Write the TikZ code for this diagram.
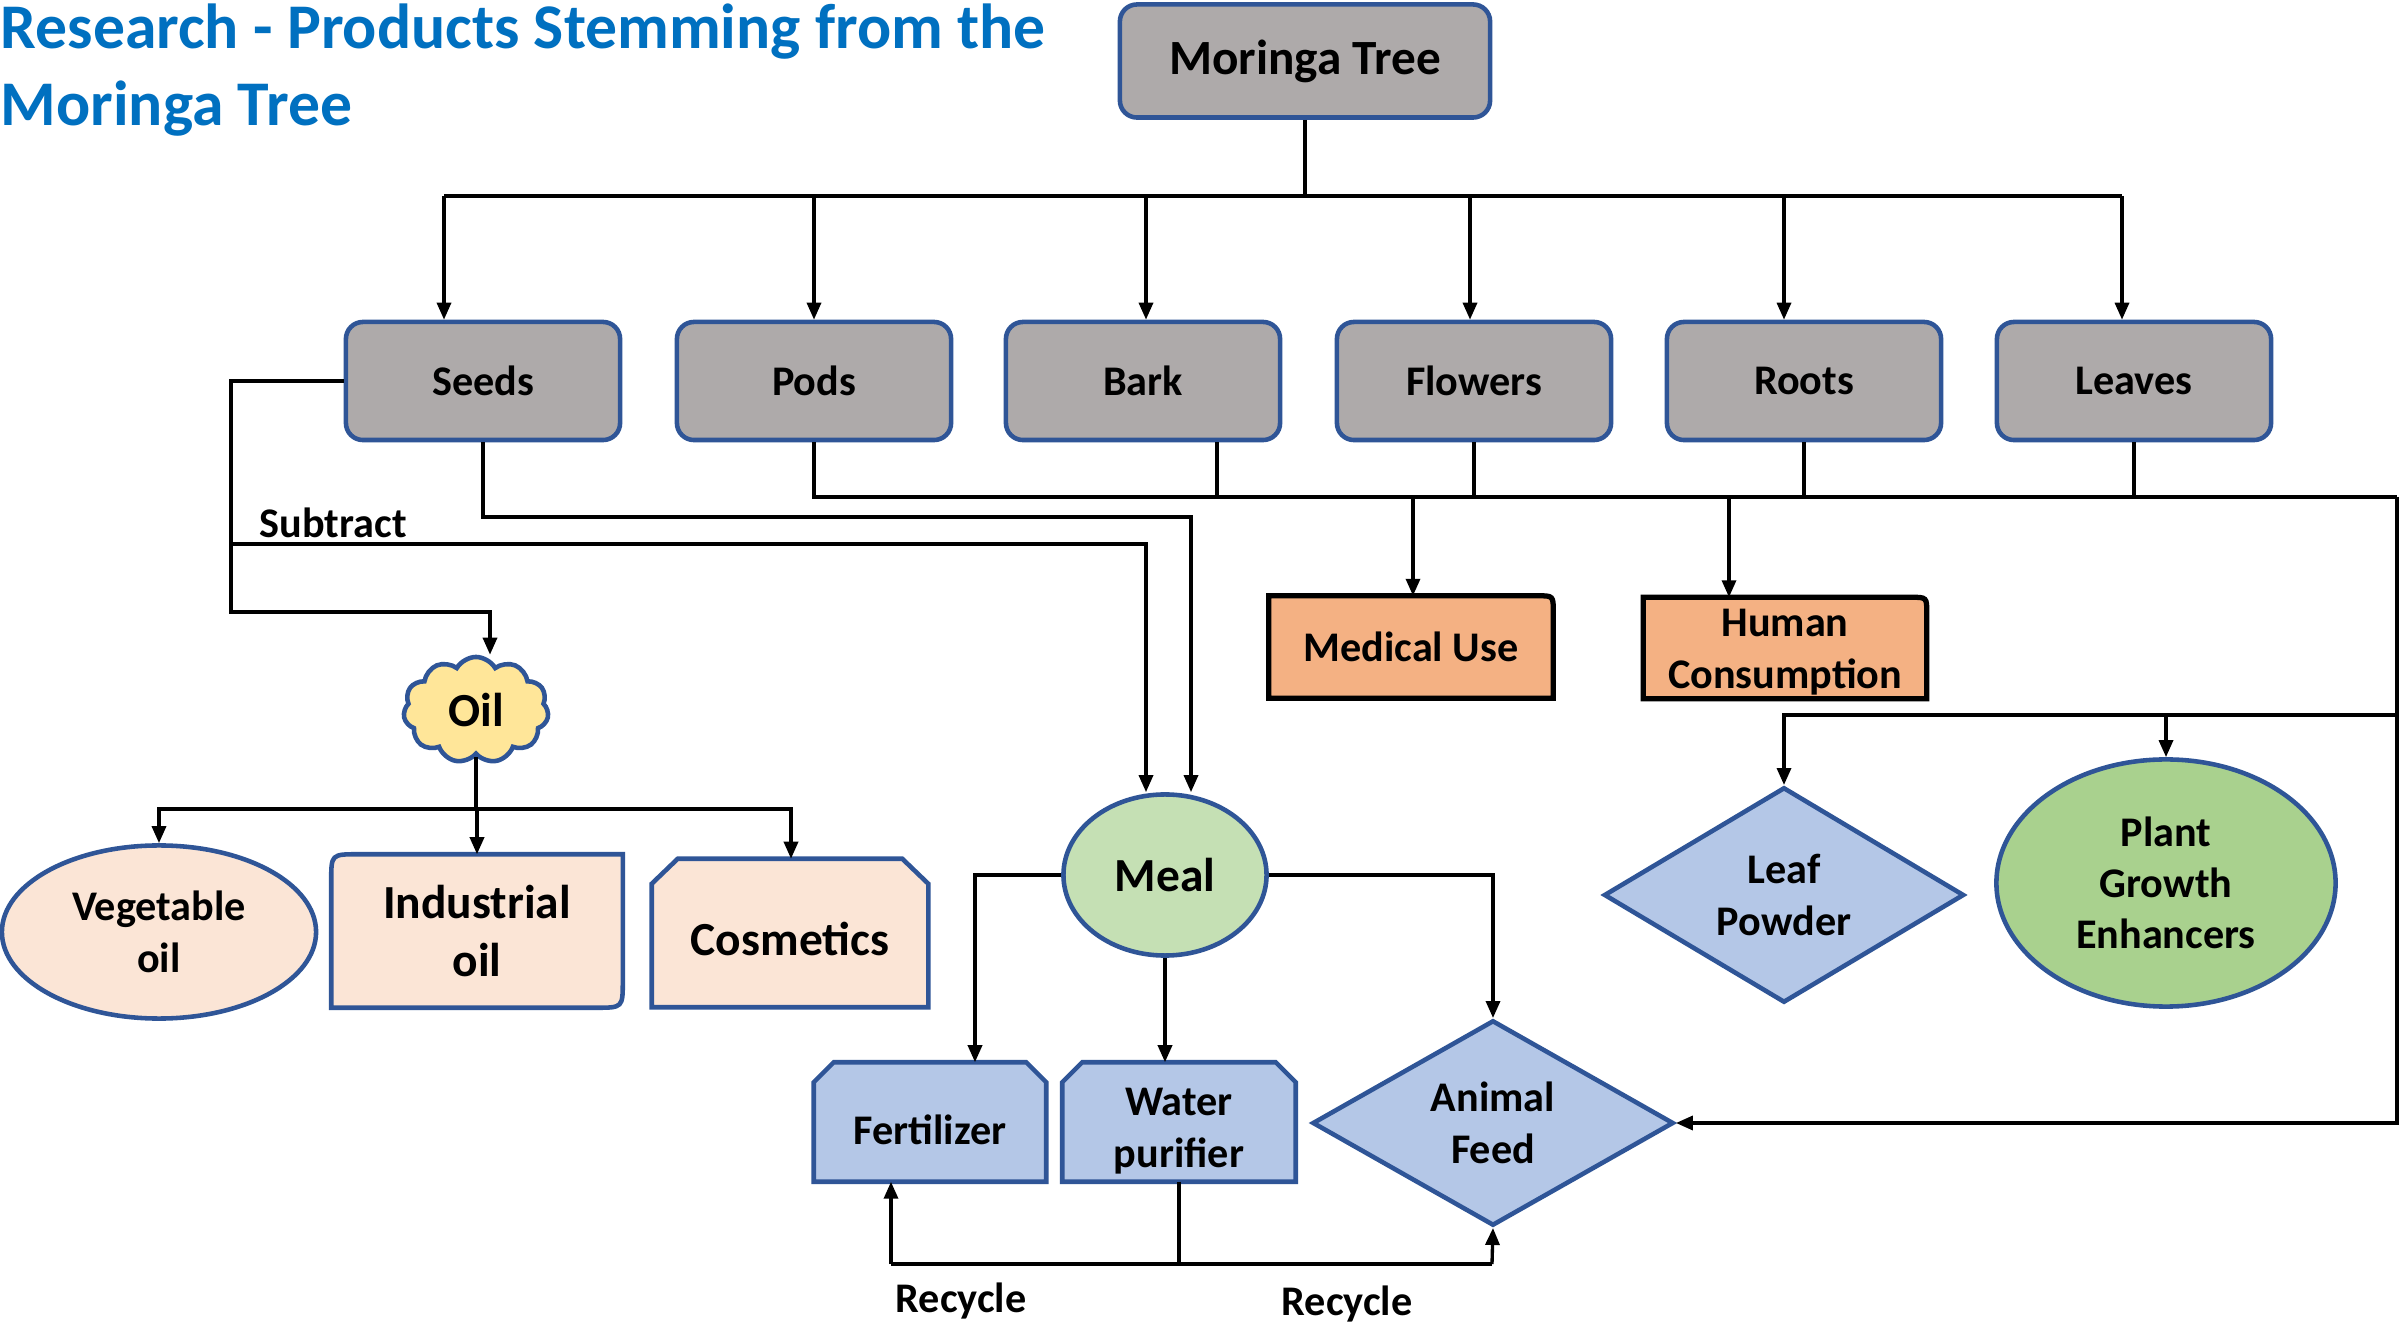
\documentclass[tikz,border=0pt]{standalone}
\usepackage{fontspec}
\setmainfont{Carlito}
\usetikzlibrary{shapes.geometric,shapes.symbols,arrows.meta,backgrounds}
\definecolor{boxgray}{HTML}{AEAAAA}
\definecolor{bord}{HTML}{2F5597}
\definecolor{orng}{HTML}{F4B183}
\definecolor{peach}{HTML}{FBE5D6}
\definecolor{cloudy}{HTML}{FFE699}
\definecolor{mealg}{HTML}{C5E0B4}
\definecolor{plantg}{HTML}{A9D18E}
\definecolor{lblue}{HTML}{B4C7E7}
\definecolor{titleblue}{HTML}{0070C0}
\tikzset{
  conn/.style={line width=0.95pt, draw=black},
  arr/.style={conn, -{Triangle[length=0.17cm,width=0.14cm]}},
  t12/.style={font=\bfseries\fontsize{12}{14.6}\selectfont, align=center, text=black},
  t13/.style={font=\bfseries\fontsize{13.5}{16.5}\selectfont, align=center, text=black},
  ttl/.style={font=\bfseries\fontsize{18.1}{21}\selectfont, text=titleblue, inner sep=0pt, anchor=base west},
  lbl/.style={t12, inner sep=0pt},
  graybox/.style={t12, draw=bord, line width=1.3pt, fill=boxgray, rounded corners=0.17cm,
    minimum width=2.74cm, minimum height=1.18cm, inner sep=0pt},
  plain/.style={inner sep=0pt},
  outl/.style={draw=bord, line width=1.3pt},
  outlk/.style={draw=black, line width=1.5pt, fill=orng},
  ell/.style={ellipse, draw=bord, line width=1.3pt, inner sep=0pt},
  dia/.style={diamond, draw=bord, line width=1.3pt, fill=lblue, inner sep=0pt, t12},
}
\begin{document}
\begin{tikzpicture}[x=0.01cm, y=-0.01cm]
\useasboundingbox (0,0) rectangle (2399,1322);
\begin{pgfonlayer}{background}
\fill[white] (0,0) rectangle (2399,1322);
\end{pgfonlayer}

% title
\node[ttl] (t1) at (0,49) {Research - Products Stemming from the};
\node[ttl] (t2) at (0,126) {Moringa Tree};

% tree and parts
\node[graybox, font=\bfseries\fontsize{14}{16.8}\selectfont, minimum width=3.70cm, minimum height=1.13cm] (tree) at (1305,61) {Moringa Tree};
\node[graybox] (seeds) at (483,381) {Seeds};
\node[graybox] (pods) at (814,381) {Pods};
\node[graybox] (bark) at (1143,381) {Bark};
\node[graybox] (flowers) at (1474,381) {Flowers};
\node[graybox] (roots) at (1804,381) {Roots};
\node[graybox] (leaves) at (2134,381) {Leaves};

% uses
\node[plain, t12, minimum width=2.83cm, minimum height=1.01cm] (med) at (1411,647) {Medical Use};
\node[plain, t12, minimum width=2.82cm, minimum height=1.00cm] (hum) at (1785,652) {Human\\Consumption};
\node[dia, minimum width=3.60cm, minimum height=2.03cm] (leaf) at (1784,895) {Leaf\\Powder};
\node[ell, t12, fill=plantg, minimum width=3.39cm, minimum height=2.47cm] (plant) at (2166,883) {Plant\\Growth\\Enhancers};

% oil branch
\node[cloud, cloud puffs=11, cloud puff arc=120, aspect=1.35, draw=bord, line width=1.3pt, fill=cloudy,
  inner sep=0pt, minimum width=1.45cm, minimum height=1.06cm, t13] (oil) at (476,710) {Oil};
\node[ell, t12, fill=peach, minimum width=3.14cm, minimum height=1.73cm] (veg) at (159,932) {Vegetable\\oil};
\node[plain, t13, minimum width=2.90cm, minimum height=1.52cm] (ind) at (477,931) {Industrial\\oil};
\node[plain, t13, minimum width=2.75cm, minimum height=1.47cm] (cos) at (790,939) {Cosmetics};

% meal branch
\node[ell, t13, fill=mealg, minimum width=2.03cm, minimum height=1.61cm] (meal) at (1165,875) {Meal};
\node[plain, t12, minimum width=2.31cm, minimum height=1.18cm] (fert) at (930,1130) {Fertilizer};
\node[plain, t12, minimum width=2.32cm, minimum height=1.18cm] (water) at (1179,1131) {Water\\purifier};
\node[dia, minimum width=3.61cm, minimum height=2.04cm] (feed) at (1493,1123) {Animal\\Feed};

% true outline corners of the boxes whose text sits low
\coordinate (humNW) at ([yshift=0.04cm]hum.north west);
\coordinate (humNE) at ([yshift=0.04cm]hum.north east);
\coordinate (humSW) at ([yshift=0.04cm]hum.south west);
\coordinate (humSE) at ([yshift=0.04cm]hum.south east);
\coordinate (cosNW) at ([yshift=0.06cm]cos.north west);
\coordinate (cosNE) at ([yshift=0.06cm]cos.north east);
\coordinate (cosSW) at ([yshift=0.06cm]cos.south west);
\coordinate (cosSE) at ([yshift=0.06cm]cos.south east);
\coordinate (fertNW) at ([yshift=0.08cm]fert.north west);
\coordinate (fertNE) at ([yshift=0.08cm]fert.north east);
\coordinate (fertSW) at ([yshift=0.08cm]fert.south west);
\coordinate (fertSE) at ([yshift=0.08cm]fert.south east);
\coordinate (watNW) at ([yshift=0.09cm]water.north west);
\coordinate (watNE) at ([yshift=0.09cm]water.north east);
\coordinate (watSW) at ([yshift=0.09cm]water.south west);
\coordinate (watSE) at ([yshift=0.09cm]water.south east);

% custom outlines
\begin{pgfonlayer}{background}
\draw[outlk] (med.south west) -- (med.north west) -- ([xshift=-0.16cm]med.north east)
  .. controls (med.north east) .. ([yshift=-0.16cm]med.north east) -- (med.south east) -- cycle;
\draw[outlk] (humSW) -- (humNW) -- ([xshift=-0.16cm]humNE)
  .. controls (humNE) .. ([yshift=-0.16cm]humNE) -- (humSE) -- cycle;
\draw[outl, fill=peach] ([yshift=-0.27cm]ind.north west) .. controls (ind.north west) .. ([xshift=0.27cm]ind.north west)
  -- (ind.north east) -- ([yshift=0.27cm]ind.south east) .. controls (ind.south east) .. ([xshift=-0.27cm]ind.south east)
  -- (ind.south west) -- cycle;
\draw[outl, fill=peach] (cosSW) -- ([yshift=-0.25cm]cosNW) -- ([xshift=0.26cm]cosNW)
  -- ([xshift=-0.26cm]cosNE) -- ([yshift=-0.25cm]cosNE) -- (cosSE) -- cycle;
\draw[outl, fill=lblue] (fertSW) -- ([yshift=-0.2cm]fertNW) -- ([xshift=0.2cm]fertNW)
  -- ([xshift=-0.2cm]fertNE) -- ([yshift=-0.2cm]fertNE) -- (fertSE) -- cycle;
\draw[outl, fill=lblue] (watSW) -- ([yshift=-0.2cm]watNW) -- ([xshift=0.2cm]watNW)
  -- ([xshift=-0.2cm]watNE) -- ([yshift=-0.2cm]watNE) -- (watSE) -- cycle;
\end{pgfonlayer}

% tree to parts
\coordinate (bus) at (1305,196);
\draw[conn] (tree.south) -- (bus);
\draw[conn] (444,196) -- (2122,196);
\foreach \n/\x in {seeds/444, pods/814, bark/1146, flowers/1470, roots/1784, leaves/2122}{
  \coordinate (t\n) at (\x,196);
  \draw[arr] (t\n) -- (t\n |- \n.north);
}

% parts to uses
\coordinate (rb) at (2397,497);
\coordinate (bk) at (1217,497);
\draw[conn] (pods.south) |- (rb);
\draw[conn] (bark.south -| bk) -- (bk);
\draw[conn] (flowers.south) -- (flowers.south |- rb);
\draw[conn] (roots.south) -- (roots.south |- rb);
\draw[conn] (leaves.south) -- (leaves.south |- rb);
\draw[arr] (rb) |- (feed.east);
\coordinate (m1) at (1413,497);
\coordinate (h1) at (1729,497);
\draw[arr] (m1) -- (m1 |- med.north);
\draw[arr] (h1) -- (h1 |- humNW);
\coordinate (lr) at (2397,715);
\coordinate (p1) at (2166,715);
\draw[arr] (lr) -| (leaf.north);
\draw[arr] (p1) -- (plant.north);

% seeds to oil and meal
\coordinate (sA) at (231,612);
\coordinate (sB) at (490,612);
\coordinate (sC) at (231,544);
\coordinate (sD) at (1146,544);
\coordinate (sE) at (1191,517);
\draw[arr] (seeds.west) -| (sA) -- (sB) -- (sB |- oil.north);
\draw[arr] (sC) -- (sD) -- (sD |- meal.north);
\draw[arr] (seeds.south) |- (sE) -- (sE |- meal.north);
\node[lbl, anchor=base west] (sub) at (259,538) {Subtract};

% oil to products
\coordinate (oB) at (477,809);
\coordinate (cT) at (791,809);
\draw[conn] (oil.south) -- (oil.south |- oB);
\draw[arr] (oB) -| (veg.north);
\draw[arr] (oB) -- (ind.north);
\draw[arr] (oB) -- (cT) -- (cT |- cosNW);

% meal to products
\coordinate (fA) at (975,875);
\draw[arr] (meal.west) -- (fA) -- (fA |- fertNW);
\draw[arr] (meal.south) -- (meal.south |- watNW);
\draw[arr] (meal.east) -| (feed.north);

% recycle
\coordinate (rL) at (891,1264);
\coordinate (rR) at (1492,1264);
\draw[conn] (water.south |- watSW) -- (water.south |- rL);
\draw[conn] (rL) -- (rR);
\draw[arr] (rL) -- (rL |- fertSW);
\draw[arr] (rR) -- (feed.south);
\node[lbl, anchor=base] (rc1) at (961,1312) {Recycle};
\node[lbl, anchor=base] (rc2) at (1347,1315) {Recycle};
\end{tikzpicture}
\end{document}
